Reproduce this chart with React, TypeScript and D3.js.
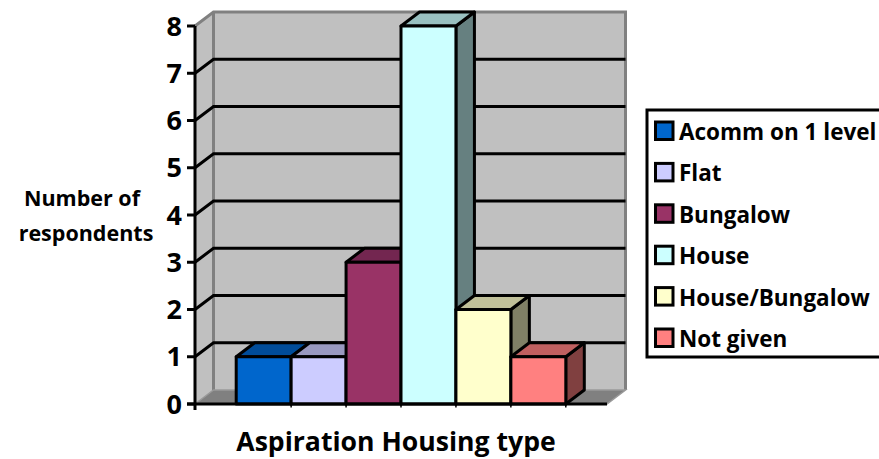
import { useEffect, useRef } from 'react';
import * as d3 from 'd3';

const categories = ['Acomm on 1 level', 'Flat', 'Bungalow', 'House', 'House/Bungalow', 'Not given'];
const values = [1, 1, 3, 8, 2, 1];
const frontColors = ['#0066CC', '#CCCCFF', '#993366', '#CCFFFF', '#FFFFCC', '#FF8080'];
const topColors = ['#004C99', '#9999C0', '#732650', '#99C0C0', '#C0C099', '#C06060'];
const sideColors = ['#003366', '#666680', '#4D1933', '#668080', '#808066', '#804040'];
const yTicks = [0, 1, 2, 3, 4, 5, 6, 7, 8];

const FONT = '"Open Sans", "Noto Sans", sans-serif';
const DX = 18.5;
const DY = -14;
const SW = 3;

export default function App() {
  const svgRef = useRef<SVGSVGElement>(null);

  useEffect(() => {
    if (!svgRef.current) return;
    const svg = d3.select(svgRef.current);
    svg.selectAll('*').remove();

    const x = d3.scaleBand<string>().domain(categories).range([195, 607]).paddingInner(0).paddingOuter(0.75);
    const y = d3.scaleLinear().domain([0, 8]).range([404, 26]);
    const pts = (p: number[][]) => p.map(d => d.join(',')).join(' ');
    const x0 = x.range()[0];
    const x1 = x.range()[1];

    // walls and floor
    svg.append('polygon')
      .attr('points', pts([[x0, y(0)], [x0, y(8)], [x0 + DX, y(8) + DY], [x0 + DX, y(0) + DY]]))
      .attr('fill', '#C0C0C0');
    svg.append('polygon')
      .attr('points', pts([[x0 + DX, y(0) + DY], [x0 + DX, y(8) + DY], [x1 + DX, y(8) + DY], [x1 + DX, y(0) + DY]]))
      .attr('fill', '#C0C0C0');
    svg.append('polyline')
      .attr('points', pts([[x0, y(8)], [x0 + DX, y(8) + DY], [x1 + DX, y(8) + DY], [x1 + DX, y(0) + DY]]))
      .attr('fill', 'none').attr('stroke', '#808080').attr('stroke-width', SW);
    svg.append('line')
      .attr('x1', x0 + DX).attr('x2', x0 + DX).attr('y1', y(8) + DY).attr('y2', y(0) + DY)
      .attr('stroke', '#808080').attr('stroke-width', SW);
    svg.append('polygon')
      .attr('points', pts([[x0, y(0)], [x0 + DX, y(0) + DY], [x1 + DX, y(0) + DY], [x1, y(0)]]))
      .attr('fill', '#808080').attr('stroke', '#999999').attr('stroke-width', 1.5);

    // gridlines
    yTicks.filter(t => t > 0 && t < 8).forEach(t => {
      svg.append('polyline')
        .attr('points', pts([[x0, y(t)], [x0 + DX, y(t) + DY], [x1 + DX, y(t) + DY]]))
        .attr('fill', 'none').attr('stroke', '#000').attr('stroke-width', SW);
    });

    // bars, left to right so later ones overlap
    const bw = x.bandwidth();
    categories.forEach((c, i) => {
      const l = x(c) as number;
      const r = l + bw;
      const t = y(values[i]);
      const b = y(0);
      const g = svg.append('g').attr('stroke', '#000').attr('stroke-width', SW).attr('stroke-linejoin', 'round');
      g.append('polygon').attr('points', pts([[r, t], [r + DX, t + DY], [r + DX, b + DY], [r, b]])).attr('fill', sideColors[i]);
      g.append('polygon').attr('points', pts([[l, t], [l + DX, t + DY], [r + DX, t + DY], [r, t]])).attr('fill', topColors[i]);
      g.append('rect').attr('x', l).attr('y', t).attr('width', bw).attr('height', b - t).attr('fill', frontColors[i]);
    });

    // axes
    svg.append('line').attr('x1', x0).attr('x2', x0).attr('y1', y(8)).attr('y2', y(0) + 6)
      .attr('stroke', '#000').attr('stroke-width', SW);
    svg.append('line').attr('x1', x0 - 8).attr('x2', x1).attr('y1', y(0)).attr('y2', y(0))
      .attr('stroke', '#000').attr('stroke-width', SW);
    categories.forEach(c => {
      const tx = (x(c) as number) + bw;
      svg.append('line').attr('x1', tx).attr('x2', tx).attr('y1', y(0)).attr('y2', y(0) + 3.5)
        .attr('stroke', '#000').attr('stroke-width', 1.5);
    });
    yTicks.forEach(t => {
      svg.append('line').attr('x1', x0 - 8).attr('x2', x0).attr('y1', y(t)).attr('y2', y(t))
        .attr('stroke', '#000').attr('stroke-width', SW);
      svg.append('text').text(t)
        .attr('x', x0 - 13).attr('y', y(t)).attr('dy', '0.36em')
        .attr('text-anchor', 'end')
        .attr('font-family', FONT).attr('font-weight', 700).attr('font-size', 27).attr('fill', '#000');
    });

    // axis titles
    svg.append('text').text('Aspiration Housing type')
      .attr('x', 396).attr('y', 451).attr('text-anchor', 'middle')
      .attr('font-family', FONT).attr('font-weight', 700).attr('font-size', 26.6).attr('fill', '#000');
    const titleX = [82, 86];
    ['Number of', 'respondents'].forEach((s, i) => {
      svg.append('text').text(s)
        .attr('x', titleX[i]).attr('y', 206 + i * 35).attr('text-anchor', 'middle')
        .attr('font-family', FONT).attr('font-weight', 700).attr('font-size', 21.5).attr('fill', '#000');
    });

    // legend
    svg.append('rect').attr('x', 647).attr('y', 110).attr('width', 240).attr('height', 247)
      .attr('fill', '#fff').attr('stroke', '#000').attr('stroke-width', SW);
    const ly = d3.scalePoint<string>().domain(categories).range([131, 338]);
    categories.forEach((c, i) => {
      const cy = ly(c) as number;
      svg.append('rect').attr('x', 655.5).attr('y', cy - 9).attr('width', 17.5).attr('height', 17.5)
        .attr('fill', frontColors[i]).attr('stroke', '#000').attr('stroke-width', SW);
      svg.append('text').text(c)
        .attr('x', 679).attr('y', cy + 9)
        .attr('font-family', FONT).attr('font-weight', 700).attr('font-size', 22.5).attr('fill', '#000');
    });
  }, []);

  return (
    <svg
      ref={svgRef}
      width={879}
      height={459}
      style={{ position: 'fixed', left: 0, top: 0, background: '#fff' }}
    />
  );
}
